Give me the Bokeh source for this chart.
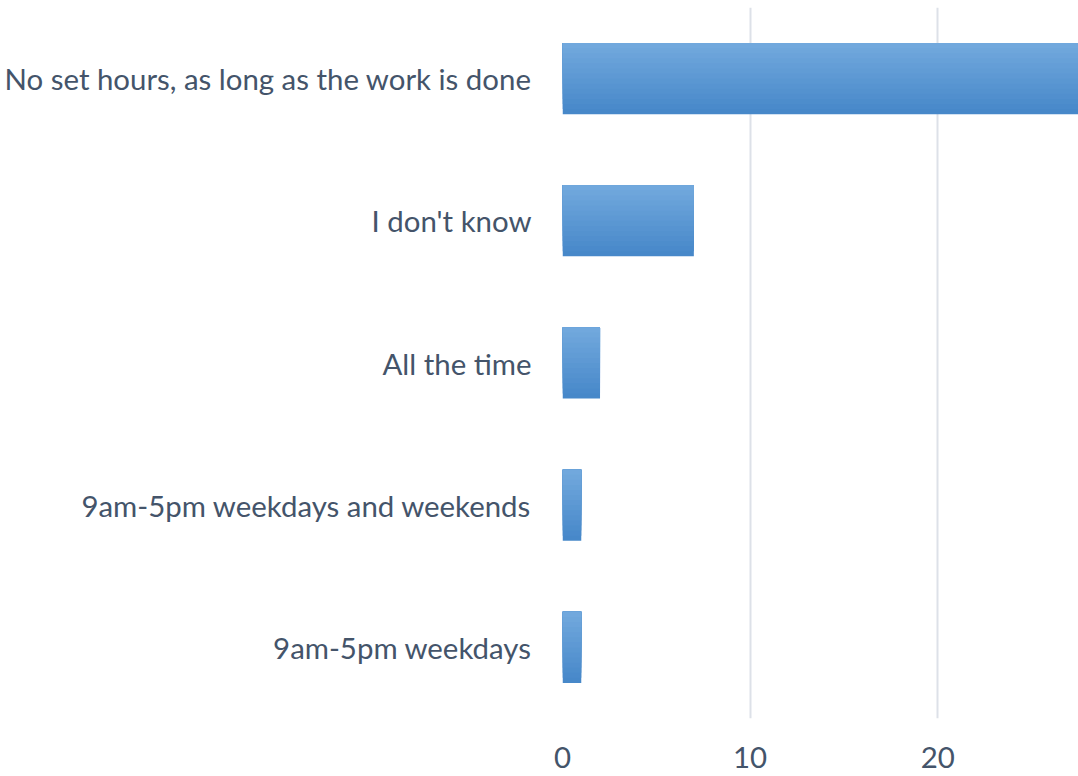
from bokeh.plotting import figure
from bokeh.models import ColumnDataSource, Range1d, FactorRange, FixedTicker
from bokeh.transform import dodge
from bokeh.embed import file_html
from bokeh.resources import INLINE

categories = [
    "No set hours, as long as the work is done",
    "I don't know",
    "All the time",
    "9am-5pm weekdays and weekends",
    "9am-5pm weekdays",
]
counts = [28, 7, 2, 1, 1]
x_ticks = [0, 10, 20]

FONT = "Lato"
TEXT_COLOR = "#44546a"

src = ColumnDataSource(dict(cat=categories, count=counts))

p = figure(
    width=1078, height=776,
    y_range=FactorRange(factors=categories[::-1], range_padding=0),
    x_range=Range1d(0, 27.5),
    output_backend="svg", toolbar_location=None,
    min_border_left=562, min_border_right=0, min_border_top=7, min_border_bottom=58,
)
p.outline_line_color = None

# gradient bars: stacked layers anchored at the bar top, light on top, dark at bottom
N = 14
top_c = (0x71, 0xA8, 0xDD)
bot_c = (0x47, 0x88, 0xC9)
BAR_H = 0.5
for k in range(N):
    h = BAR_H * (N - k) / N
    f = k / (N - 1)
    col = "#%02x%02x%02x" % tuple(int(round(b + (t - b) * f)) for t, b in zip(top_c, bot_c))
    p.hbar(y=dodge("cat", BAR_H / 2 - h / 2, range=p.y_range), height=h, left=0,
           right="count", source=src, fill_color=col, line_color=None)

p.ygrid.grid_line_color = None
p.xgrid.grid_line_color = "#dde1e8"
p.xgrid.grid_line_width = 2

p.xaxis.ticker = FixedTicker(ticks=x_ticks)
for ax in (p.xaxis[0], p.yaxis[0]):
    ax.axis_line_color = None
    ax.major_tick_line_color = None
    ax.minor_tick_line_color = None
    ax.major_tick_out = 0
    ax.major_tick_in = 0
    ax.major_label_text_font = FONT
    ax.major_label_text_font_size = "29.4px"
    ax.major_label_text_color = TEXT_COLOR
p.yaxis.major_label_standoff = 31
p.xaxis.major_label_standoff = 28

open("out.html", "w").write(file_html(p, INLINE))
